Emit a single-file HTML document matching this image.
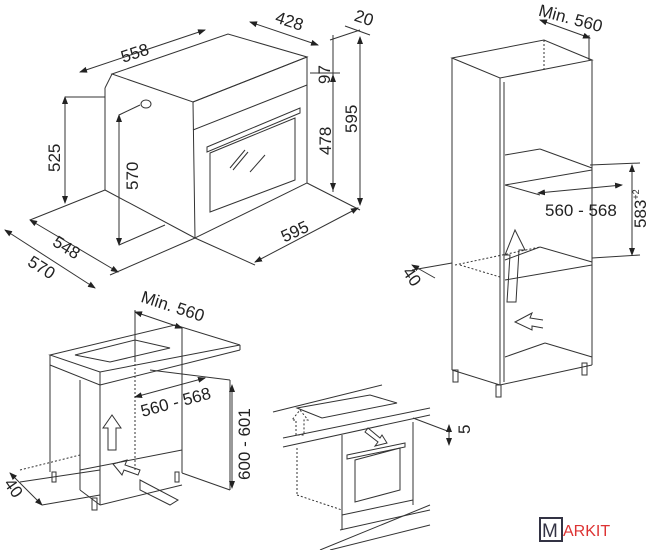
<!DOCTYPE html>
<html><head><meta charset="utf-8"><style>
html,body{margin:0;padding:0;background:#fff}
svg{display:block}
text{font-family:"Liberation Sans",Arial,sans-serif;fill:#222}
</style></head><body>
<svg width="652" height="550" viewBox="0 0 652 550" xmlns="http://www.w3.org/2000/svg">
<defs>
<marker id="a" markerWidth="8" markerHeight="6" refX="7" refY="3" orient="auto"><path d="M0,0 L8,3 L0,6z" fill="#222"/></marker>
<marker id="b" markerWidth="8" markerHeight="6" refX="1" refY="3" orient="auto"><path d="M8,0 L0,3 L8,6z" fill="#222"/></marker>
</defs>
<g stroke="#333" stroke-width="1" fill="none">
<!-- Oven top-left -->
<polygon points="112,74 228,34 307,57 193,102" fill="#fff"/>
<line x1="112" y1="74" x2="105" y2="88"/>
<line x1="105" y1="88" x2="105" y2="190"/>
<line x1="105" y1="190" x2="195" y2="238"/>
<polygon points="193,102 307,57 307,183 195,238"/>
<line x1="193" y1="130" x2="307" y2="85"/>
<polygon points="210,153 295,118 295,180 210,212"/>
<path d="M207,147 L300,108 L300,113 L207,152z"/>
<line x1="230" y1="168" x2="245" y2="150"/><line x1="233" y1="170" x2="248" y2="152"/><line x1="250" y1="172" x2="265" y2="155"/>
<ellipse cx="146" cy="104" rx="5" ry="4"/>
<line x1="307" y1="183" x2="360" y2="210"/>
<line x1="105" y1="190" x2="30" y2="220"/>
<line x1="195" y1="238" x2="110" y2="275"/>
<line x1="195" y1="238" x2="255" y2="265"/>
<line x1="80" y1="72" x2="205" y2="30" marker-start="url(#b)" marker-end="url(#a)"/>
<line x1="250" y1="22" x2="318" y2="45" marker-start="url(#b)" marker-end="url(#a)"/>
<line x1="345" y1="26" x2="370" y2="35"/>
<line x1="330" y1="40" x2="360" y2="30"/>
<line x1="333" y1="35" x2="333" y2="192"/>
<line x1="310" y1="73" x2="340" y2="73"/>
<line x1="333" y1="75" x2="333" y2="190" marker-start="url(#b)" marker-end="url(#a)"/>
<line x1="360" y1="37" x2="360" y2="205" marker-start="url(#b)" marker-end="url(#a)"/>
<line x1="65" y1="97" x2="65" y2="203" marker-start="url(#b)" marker-end="url(#a)"/>
<line x1="65" y1="97" x2="105" y2="97"/>
<line x1="119" y1="115" x2="119" y2="245" marker-start="url(#b)" marker-end="url(#a)"/>
<line x1="119" y1="115" x2="140" y2="105"/><line x1="119" y1="245" x2="165" y2="225"/>
<line x1="30" y1="220" x2="118" y2="272" marker-start="url(#b)" marker-end="url(#a)"/>
<line x1="5" y1="230" x2="95" y2="288" marker-start="url(#b)" marker-end="url(#a)"/>
<line x1="255" y1="262" x2="358" y2="208" marker-start="url(#b)" marker-end="url(#a)"/>
<!-- Tall cabinet right -->
<polygon points="452,58 544,40 592,60 500,78"/>
<line x1="544" y1="40" x2="544" y2="70" stroke-dasharray="2,2"/>
<line x1="452" y1="58" x2="452" y2="370"/>
<line x1="500" y1="78" x2="500" y2="385"/>
<line x1="592" y1="60" x2="592" y2="365"/>
<line x1="500" y1="385" x2="592" y2="365"/>
<line x1="452" y1="370" x2="500" y2="385"/>
<line x1="504" y1="82" x2="504" y2="382"/>
<line x1="505" y1="155" x2="540" y2="149"/><line x1="540" y1="149" x2="592" y2="168"/>
<line x1="505" y1="185" x2="592" y2="170"/><line x1="505" y1="185" x2="540" y2="195"/>
<line x1="505" y1="260" x2="540" y2="247"/><line x1="540" y1="247" x2="592" y2="262"/>
<line x1="505" y1="280" x2="592" y2="265"/>
<line x1="505" y1="357" x2="545" y2="343"/><line x1="545" y1="343" x2="592" y2="357"/>
<line x1="455" y1="265" x2="540" y2="247" stroke-dasharray="2,2"/>
<line x1="460" y1="265" x2="500" y2="277" stroke-dasharray="2,2"/>
<line x1="412" y1="270" x2="452" y2="263"/>
<line x1="412" y1="265" x2="435" y2="278" marker-start="url(#b)"/>
<line x1="538" y1="193" x2="622" y2="185" marker-start="url(#b)" marker-end="url(#a)"/>
<line x1="590" y1="165" x2="640" y2="163"/><line x1="592" y1="258" x2="640" y2="255"/>
<line x1="632" y1="165" x2="632" y2="255" marker-start="url(#b)" marker-end="url(#a)"/>
<line x1="540" y1="20" x2="590" y2="38" marker-start="url(#b)" marker-end="url(#a)"/>
<line x1="589" y1="35" x2="589" y2="60"/>
<rect x="453" y="370" width="5" height="12"/><rect x="496" y="385" width="5" height="12"/><rect x="582" y="363" width="5" height="12"/>
<path d="M507,302 L510,255 L505,255 L515,230 L525,250 L519,250 L516,302z"/>
<path d="M543,320 L530,318 L532,313 L515,322 L532,330 L532,326 L543,328"/>
<!-- bottom left cabinet -->
<polygon points="50,355 175,325 240,345 100,372"/>
<polygon points="75,355 135,340 170,348 110,362"/>
<line x1="50" y1="355" x2="50" y2="472"/>
<line x1="100" y1="372" x2="100" y2="505"/>
<line x1="50" y1="365" x2="100" y2="385"/>
<line x1="100" y1="385" x2="240" y2="350"/>
<line x1="240" y1="345" x2="240" y2="350"/>
<line x1="80" y1="380" x2="80" y2="490"/>
<line x1="182" y1="358" x2="182" y2="473"/>
<line x1="150" y1="370" x2="230" y2="380"/>
<line x1="230" y1="380" x2="230" y2="490"/>
<line x1="182" y1="473" x2="230" y2="490"/>
<line x1="80" y1="490" x2="100" y2="505"/>
<line x1="100" y1="505" x2="182" y2="485"/>
<line x1="80" y1="470" x2="182" y2="450"/>
<line x1="20" y1="470" x2="80" y2="455" stroke-dasharray="2,2"/>
<line x1="20" y1="482" x2="100" y2="470"/>
<line x1="135" y1="360" x2="135" y2="470" stroke-dasharray="2,2"/>
<line x1="182" y1="328" x2="182" y2="365"/><line x1="135" y1="310" x2="135" y2="360"/>
<line x1="135" y1="312" x2="182" y2="328" marker-start="url(#b)" marker-end="url(#a)"/>
<line x1="135" y1="397" x2="205" y2="378" marker-start="url(#b)" marker-end="url(#a)"/>
<line x1="232" y1="385" x2="232" y2="488" marker-start="url(#b)" marker-end="url(#a)"/>
<line x1="10" y1="473" x2="42" y2="505" marker-start="url(#b)" marker-end="url(#a)"/>
<line x1="42" y1="505" x2="100" y2="495"/>
<rect x="52" y="472" width="4" height="10"/><rect x="92" y="498" width="5" height="12"/><rect x="175" y="472" width="4" height="10"/>
<path d="M108,450 L108,428 L103,428 L112,415 L121,428 L116,428 L116,450z"/>
<path d="M140,470 L125,465 L127,460 L113,464 L122,475 L124,470 L138,475z"/>
<path d="M140,480 L178,500 L170,505 L140,490z"/>
<!-- middle oven -->
<line x1="273" y1="412" x2="382" y2="385"/>
<polygon points="297,408 370,395 397,403 322,418"/>
<line x1="283" y1="438" x2="430" y2="408"/><line x1="283" y1="447" x2="430" y2="415"/>
<line x1="297" y1="448" x2="297" y2="495" stroke-dasharray="2,2"/>
<line x1="297" y1="495" x2="342" y2="510" stroke-dasharray="2,2"/>
<line x1="342" y1="435" x2="342" y2="530"/><line x1="413" y1="422" x2="413" y2="505"/>
<line x1="342" y1="515" x2="413" y2="500"/>
<polygon points="355,460 400,448 400,490 355,502"/>
<path d="M347,455 L405,443 L405,447 L347,459z"/>
<line x1="320" y1="550" x2="430" y2="505"/><line x1="330" y1="550" x2="430" y2="525"/>
<line x1="340" y1="530" x2="430" y2="510"/>
<line x1="413" y1="418" x2="450" y2="432"/>
<line x1="449" y1="425" x2="449" y2="445" marker-start="url(#b)" marker-end="url(#a)"/>
<path d="M296,435 L296,420 L292,420 L300,410 L308,420 L304,420 L304,435z" stroke-dasharray="2,2"/>
<path d="M365,432 L378,442 L375,446 L387,443 L382,435 L380,438 L368,428z"/>
</g>
<g font-size="17">
<text x="120" y="57" transform="rotate(-18 140 50)">558</text>
<text x="275" y="27" transform="rotate(18 290 22)">428</text>
<text x="354" y="24" transform="rotate(18 365 20)">20</text>
<text x="330" y="84" transform="rotate(-90 330 84)">97</text>
<text x="331" y="155" transform="rotate(-90 331 155)">478</text>
<text x="357" y="133" transform="rotate(-90 357 133)">595</text>
<text x="60" y="172" transform="rotate(-90 60 172)">525</text>
<text x="138" y="190" transform="rotate(-90 138 190)">570</text>
<text x="50" y="250" transform="rotate(32 60 250)">548</text>
<text x="25" y="270" transform="rotate(32 35 270)">570</text>
<text x="280" y="237" transform="rotate(-25 295 230)">595</text>
<text x="537" y="20" transform="rotate(15 555 20)">Min. 560</text>
<text x="545" y="216">560 - 568</text>
<text x="646" y="228" transform="rotate(-90 646 228)">583<tspan font-size="9" dy="-7">+2</tspan></text>
<text x="403" y="280" transform="rotate(55 410 275)">40</text>
<text x="140" y="308" transform="rotate(18 160 305)">Min. 560</text>
<text x="140" y="412" transform="rotate(-15 160 405)">560 - 568</text>
<text x="250" y="480" transform="rotate(-90 250 480)">600 - 601</text>
<text x="0" y="490" transform="rotate(55 8 490)">40</text>
<text x="472" y="444" transform="rotate(-90 466 440)">5</text>
</g>
<rect x="540" y="518" width="22" height="23" fill="none" stroke="#334" stroke-width="2"/>
<text x="542" y="537" font-size="19" style="fill:#334">M</text>
<text x="563" y="536" font-size="16" style="fill:#d33">ARKIT</text>
</svg>
</body></html>
